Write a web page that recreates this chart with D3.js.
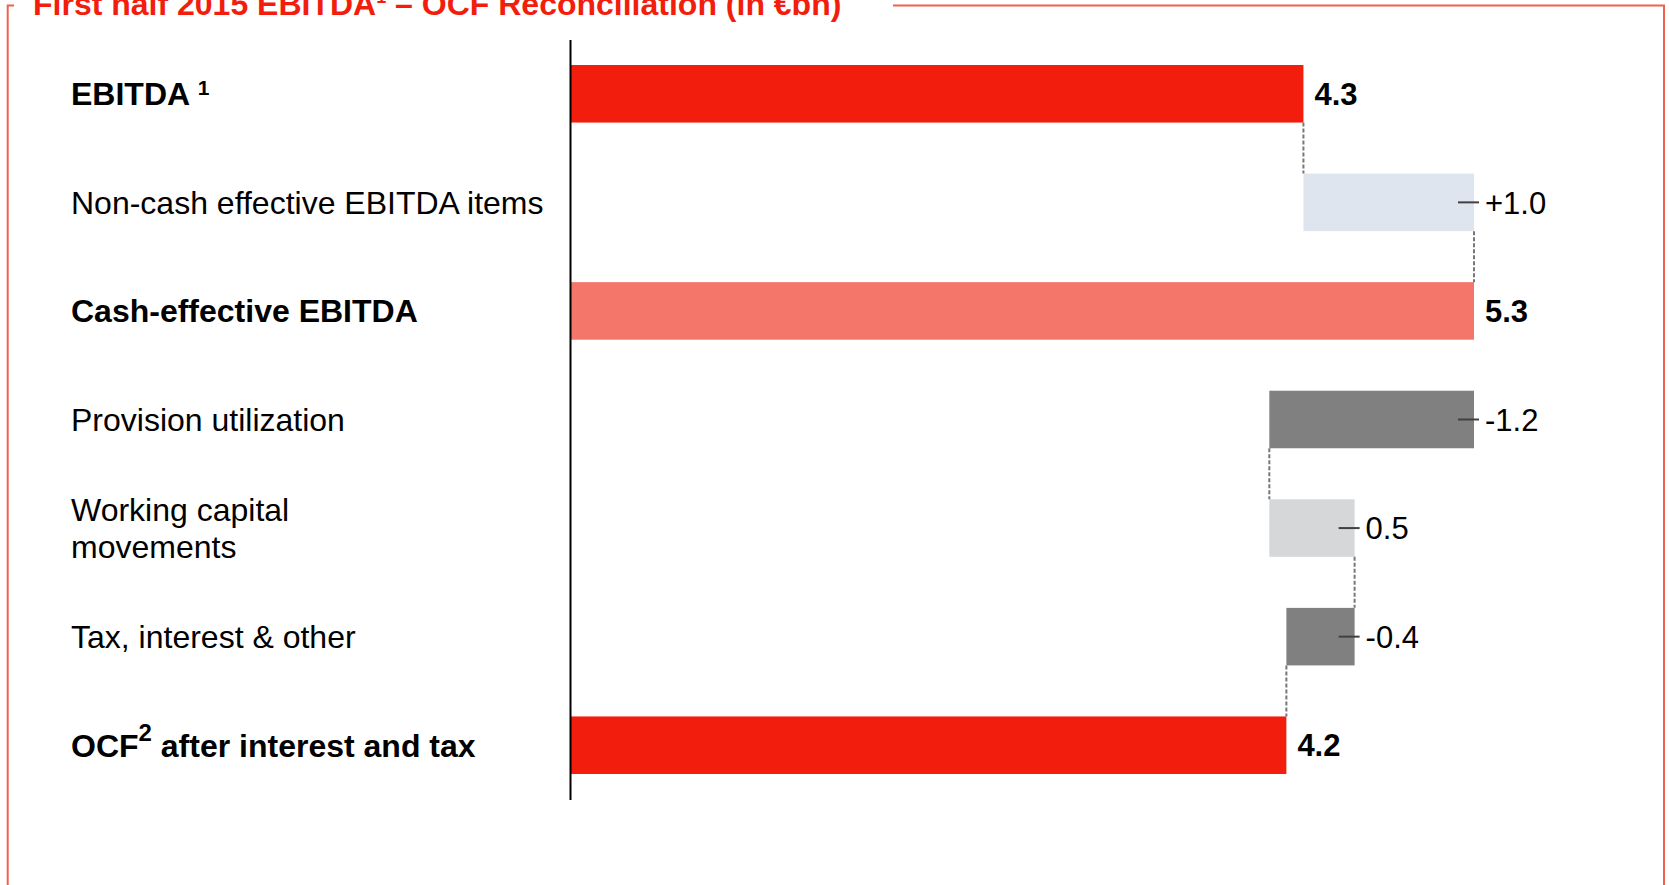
<!DOCTYPE html>
<html>
<head>
<meta charset="utf-8">
<script src="https://cdn.jsdelivr.net/npm/d3@7"></script>
<style>
  html, body { margin: 0; padding: 0; background: #fff; }
  svg { display: block; font-family: "Liberation Sans", Arial, sans-serif; }
</style>
</head>
<body>
<script>
// waterfall rows, top to bottom
const categories = [
  "EBITDA",
  "Non-cash effective EBITDA items",
  "Cash-effective EBITDA",
  "Provision utilization",
  "Working capital movements",
  "Tax, interest & other",
  "OCF after interest and tax"
];
const values = [4.3, 1.0, 5.3, -1.2, 0.5, -0.4, 4.2];
const kinds = ["total", "delta", "total", "delta", "delta", "delta", "total"];
const valueLabels = ["4.3", "+1.0", "5.3", "-1.2", "0.5", "-0.4", "4.2"];
// rows followed by a dashed connector down to the next row
const connectAfter = [0, 1, 3, 4, 5];

const width = 1669, height = 885;
const red = "#f21d0c";

const fills = {
  "EBITDA": red,
  "Non-cash effective EBITDA items": "#dfe5ee",
  "Cash-effective EBITDA": "#f4756a",
  "Provision utilization": "#808080",
  "Working capital movements": "#d6d7d9",
  "Tax, interest & other": "#808080",
  "OCF after interest and tax": red
};

// running start/end of every bar
let cum = 0;
const rows = categories.map((c, i) => {
  let x0, x1;
  if (kinds[i] === "total") { x0 = 0; x1 = values[i]; cum = values[i]; }
  else { x0 = cum; x1 = cum + values[i]; cum = x1; }
  return { name: c, value: values[i], kind: kinds[i], label: valueLabels[i], x0, x1, i };
});

const x = d3.scaleLinear().domain([0, 5.3]).range([570, 1474]);
const y = d3.scaleBand()
  .domain(categories)
  .range([39.5, 799.5])
  .paddingInner(0.47)
  .paddingOuter(0.235);

const svg = d3.select("body").append("svg")
  .attr("width", width)
  .attr("height", height);

// frame
svg.append("path")
  .attr("fill", "none")
  .attr("stroke", "#f0604f")
  .attr("stroke-width", 2)
  .attr("d", "M14,5.5H7.7V885M893,5.5H1664V885");

// title (its top is clipped by the page edge, as in the original)
const title = svg.append("text")
  .attr("x", 33)
  .attr("y", 14.5)
  .attr("fill", red)
  .attr("font-weight", "bold")
  .attr("font-size", 32);
title.append("tspan").text("First half 2015 EBITDA");
title.append("tspan").attr("font-size", 18).attr("dy", -12).text("1");
title.append("tspan").attr("dy", 12).text(" – OCF Reconciliation (in €bn)");

// bars
svg.append("g")
  .selectAll("rect")
  .data(rows)
  .join("rect")
  .attr("x", d => x(Math.min(d.x0, d.x1)))
  .attr("width", d => Math.abs(x(d.x1) - x(d.x0)))
  .attr("y", d => y(d.name))
  .attr("height", y.bandwidth())
  .attr("fill", d => fills[d.name]);

// connectors
svg.append("g")
  .attr("stroke", "#777")
  .attr("stroke-width", 2)
  .attr("stroke-dasharray", "4,2")
  .selectAll("line")
  .data(connectAfter.map(i => rows[i]))
  .join("line")
  .attr("x1", d => x(d.x1))
  .attr("x2", d => x(d.x1))
  .attr("y1", d => y(d.name) + y.bandwidth())
  .attr("y2", d => y(categories[d.i + 1]));

// axis line
svg.append("g")
  .attr("transform", `translate(${x(0)},0)`)
  .call(d3.axisLeft(y).tickSize(0).tickSizeOuter(0).tickFormat(""))
  .call(g => g.select(".domain").attr("stroke", "#000").attr("stroke-width", 2));

// small ticks on delta bars
svg.append("g")
  .attr("stroke", "#404040")
  .attr("stroke-width", 2)
  .selectAll("line")
  .data(rows.filter(d => d.kind === "delta"))
  .join("line")
  .attr("x1", d => x(Math.max(d.x0, d.x1)) - 16)
  .attr("x2", d => x(Math.max(d.x0, d.x1)) + 5)
  .attr("y1", d => y(d.name) + y.bandwidth() / 2)
  .attr("y2", d => y(d.name) + y.bandwidth() / 2);

// value labels
svg.append("g")
  .selectAll("text")
  .data(rows)
  .join("text")
  .attr("x", d => x(Math.max(d.x0, d.x1)) + 11)
  .attr("y", d => y(d.name) + y.bandwidth() / 2)
  .attr("dy", "0.36em")
  .attr("font-size", 31)
  .attr("font-weight", d => d.kind === "total" ? "bold" : "normal")
  .attr("fill", "#000")
  .text(d => d.label);

// category labels
const labels = svg.append("g")
  .selectAll("text")
  .data(rows)
  .join("text")
  .attr("x", 71)
  .attr("y", d => y(d.name) + y.bandwidth() / 2)
  .attr("dy", "0.36em")
  .attr("font-size", 32)
  .attr("font-weight", d => d.kind === "total" ? "bold" : "normal")
  .attr("fill", "#000");

labels.each(function (d) {
  const t = d3.select(this);
  if (d.name === "EBITDA") {
    t.append("tspan").text("EBITDA ");
    t.append("tspan").attr("font-size", 21).attr("dy", -10).text("1");
  } else if (d.name === "OCF after interest and tax") {
    t.append("tspan").text("OCF");
    t.append("tspan").attr("font-size", 24).attr("dy", -16).text("2");
    t.append("tspan").attr("dy", 16).text("  after interest and tax");
  } else if (d.name === "Working capital movements") {
    t.attr("dy", null);
    t.append("tspan").attr("x", 71).attr("dy", "-0.22em").text("Working capital");
    t.append("tspan").attr("x", 71).attr("dy", "1.16em").text("movements");
  } else {
    t.text(d.name);
  }
});
</script>
</body>
</html>
